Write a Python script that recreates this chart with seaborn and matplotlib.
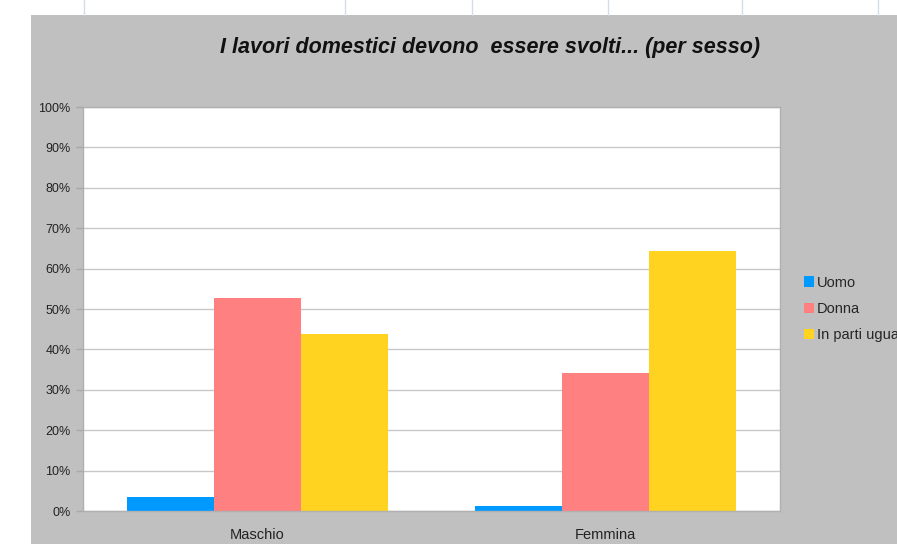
import pandas as pd
import numpy as np
import matplotlib
matplotlib.use("Agg")
import matplotlib.pyplot as plt
import seaborn as sns

# data (percent)
sessi = ["Maschio", "Femmina"]
risposte = ["Uomo", "Donna", "In parti uguali"]
uomo = [3.5, 1.3]
donna = [52.7, 34.2]
parti_uguali = [43.8, 64.4]
colori = ["#0099ff", "#ff8080", "#ffd320"]
y_ticks = list(range(0, 101, 10))

df = pd.DataFrame({
    "sesso": sessi * 3,
    "risposta": [r for r in risposte for _ in sessi],
    "valore": uomo + donna + parti_uguali,
})

sns.set_theme(style="white")
plt.rcParams["font.family"] = ["Liberation Sans", "DejaVu Sans"]

W, H = 897, 544
fig = plt.figure(figsize=(W / 100, H / 100), dpi=100)
fig.patch.set_facecolor("white")

# grey chart background, offset like the spreadsheet screenshot
fig.add_artist(plt.Rectangle((31 / W, 0), 1, 1 - 15 / H, transform=fig.transFigure,
                             facecolor="#c0c0c0", edgecolor="none", zorder=-10))
# faint sheet gridlines peeking above the chart
for xp in [84, 345, 472, 608, 742, 878]:
    fig.add_artist(plt.Line2D([xp / W, xp / W], [1 - 15 / H, 1], transform=fig.transFigure,
                              color="#d4dcea", lw=1, zorder=-10))

ax = fig.add_axes([83 / W, 33 / H, (780 - 83) / W, (511 - 107) / H])
ax.set_facecolor("white")

sns.barplot(data=df, x="sesso", y="valore", hue="risposta", order=sessi,
            hue_order=risposte, palette=colori, width=0.75, saturation=1,
            edgecolor="none", ax=ax, legend=True)

ax.set_ylim(0, 100)
ax.set_xlim(-0.5, 1.5)
ax.set_yticks(y_ticks)
ax.set_yticklabels([f"{t}%" for t in y_ticks], fontsize=9, color="#222222")
ax.yaxis.grid(True, color="#c8c8c8", lw=1)
ax.set_axisbelow(True)
ax.set_xlabel("")
ax.set_ylabel("")
ax.tick_params(axis="x", length=0, labelsize=10.5, labelcolor="#222222", pad=12)
ax.set_xticks([-0.5, 0.5, 1.5], minor=True)
ax.tick_params(axis="x", which="minor", length=4, color="#a8a8a8", width=1, direction="out")
ax.tick_params(axis="y", length=5, color="#a8a8a8", width=1, direction="out", pad=4, left=True)
for s in ax.spines.values():
    s.set_color("#b0b0b0")
    s.set_linewidth(1)

ax.get_legend().remove()
handles = [plt.Rectangle((0, 0), 1, 1, facecolor=c, edgecolor="none") for c in colori]
fig.legend(handles, risposte, loc="center left", bbox_to_anchor=(798 / W, 1 - 309 / H),
           frameon=False, fontsize=10.5, handlelength=0.7, handleheight=0.7,
           handletextpad=0.2, labelspacing=0.85, borderaxespad=0)

fig.text(490 / W, 1 - 48 / H, "I lavori domestici devono  essere svolti... (per sesso)",
         ha="center", va="center", fontsize=15.5, fontweight="bold", fontstyle="italic",
         color="#111111")

fig.savefig("out.png", dpi=100)
